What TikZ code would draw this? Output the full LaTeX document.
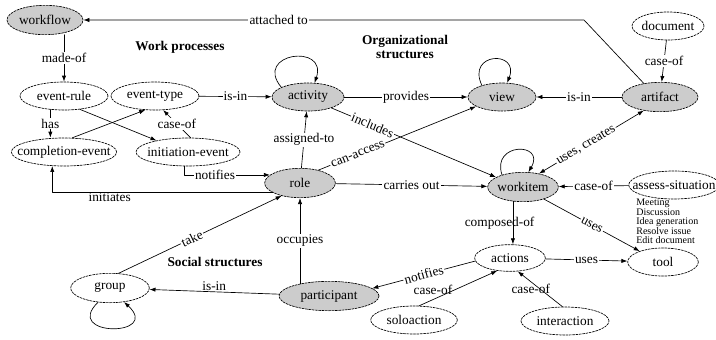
\documentclass[tikz,border=0pt]{standalone}
\usepackage{fontspec}
\setmainfont{Liberation Serif}
\usetikzlibrary{arrows.meta}
\usetikzlibrary{shapes.geometric}
\usetikzlibrary{calc}
\tikzstyle{every node}=[font=\fontsize{10}{12}\selectfont]
\tikzstyle{every path}=[line width=0.5pt,line cap=round,line join=round]
\tikzstyle{concept}=[ellipse,draw,dash pattern=on 1.6pt off 0.9pt,inner xsep=-8pt,inner ysep=1pt,minimum height=21pt]
\tikzstyle{core}=[concept,fill=gray!40]
\tikzstyle{rel}=[fill=white,inner sep=0.8pt]
\tikzstyle{zone}=[font=\fontsize{10}{11}\selectfont\bfseries,align=center]
\tikzstyle{link}=[-{Latex[length=4.5pt,width=3.2pt]}]
\tikzstyle{duallink}=[{Latex[length=4.5pt,width=3.2pt]}-{Latex[length=4.5pt,width=3.2pt]}]

\begin{document}
\begin{tikzpicture}[x=0.75pt,y=-0.75pt]
  \useasboundingbox (0,0) rectangle (716,339);

  % concepts
  \node[core,minimum width=57pt,minimum height=22pt] (workflow) at (45,20) {workflow};
  \node[concept,minimum width=66pt] (eventrule) at (64,96) {event-rule};
  \node[concept,minimum width=66pt] (eventtype) at (155,96) {event-type};
  \node[core,minimum width=54pt] (activity) at (308,97) {activity};
  \node[core,minimum width=51pt] (view) at (502,97) {view};
  \node[core,minimum width=57pt,minimum height=22pt] (artifact) at (660,97) {artifact};
  \node[concept,minimum width=54pt] (document) at (668,26) {document};
  \node[concept,minimum width=79pt] (complevent) at (64,152) {completion-event};
  \node[concept,minimum width=78pt] (initevent) at (188,152) {initiation-event};
  \node[core,minimum width=53pt,minimum height=22pt] (role) at (300,183) {role};
  \node[core,minimum width=53pt,minimum height=22pt] (workitem) at (523,187) {workitem};
  \node[concept,minimum width=68pt] (assess) at (674,185) {assess-situation};
  \node[concept,minimum width=53pt,minimum height=20pt] (actions) at (510,258) {actions};
  \node[concept,minimum width=53pt] (tool) at (663,262) {tool};
  \node[concept,minimum width=59pt,minimum height=22pt] (group) at (110,288) {group};
  \node[core,minimum width=75pt,minimum height=22pt] (participant) at (329,296) {participant};
  \node[concept,minimum width=65pt] (soloaction) at (414,320) {soloaction};
  \node[concept,minimum width=66pt] (interaction) at (565,321) {interaction};

  % regions
  \node[zone] (workproc) at (180,47) {Work processes};
  \node[zone] (orgstruct) at (405,47) {Organizational\\structures};
  \node[zone] (socstruct) at (215,262) {Social structures};

  % situations
  \foreach \txt [count=\i] in {Meeting,Discussion,Idea generation,Resolve issue,Edit document}
    \node[anchor=west,inner sep=0pt,font=\fontsize{7.5}{8}\selectfont] (situation\i) at (636,{194.3+9.2*\i}) {\txt};

  % work processes
  \coordinate (bend) at (584,20);
  \draw[link] (artifact.140) -- (bend) -- node[rel,pos=0.61] {attached to} (workflow.east);
  \draw[link] (workflow.-62 -| eventrule.north) -- node[rel] {made-of} (eventrule.north);
  \draw[link] (eventrule.225) -- node[rel] {has} (eventrule.225 |- complevent.north);
  \draw[link] (eventrule.-40) -- (initevent.160);
  \draw[link] (complevent.60) -- (eventtype.235);
  \draw[link] (initevent.80) -- node[rel] {case-of} (eventtype.-60);
  \draw[link] (eventtype) -- node[rel] {is-in} (activity);
  \draw[link] (initevent.255) |- node[rel,pos=0.68] {notifies} (role.165);
  \draw[link] (role.200) -| node[pos=0.37,below=-1pt,inner sep=1pt] {initiates} (complevent.230);

  % organizational structures
  \draw[link] (activity.160) .. controls (253,53) and (328,43) .. (activity.65);
  \draw[link] (activity) -- node[rel] {provides} (view);
  \draw[link] (view.150) .. controls (466,52) and (520,50) .. (view.70);
  \draw[link] (artifact) -- node[rel] {is-in} (view);
  \draw[link] (document) -- node[rel] {case-of} (artifact);
  \draw[link] (activity.-25) -- node[rel,sloped,pos=0.25] {includes} (workitem.160);
  \draw[link] (role.35) -- node[rel,sloped,pos=0.25] {can-access} (view.200);
  \draw[link] (role) -- node[rel] {assigned-to} (activity);
  \draw[link] (role) -- node[rel] {carries out} (workitem);
  \draw[duallink] (artifact.220) -- node[rel,sloped,pos=0.55] {uses, creates} (workitem.40);
  \draw[link] (workitem.150) .. controls (491,142) and (546,142) .. (workitem.70);
  \draw[link] (assess) -- node[rel,sloped] {case-of} (workitem);
  \draw[link] (workitem.-30) -- node[rel,sloped,pos=0.5] {uses} (tool.155);
  \draw[link] (workitem.235) -- node[xshift=-10pt] {composed-of} (workitem.235 |- actions.north);
  \draw[link] (actions) -- node[rel] {uses} (tool);
  \draw[link] (soloaction.70) -- node[pos=0.45,left=-2pt] {case-of} (actions.225);
  \draw[link] (interaction.100) -- node[xshift=-7pt] {case-of} (actions.-60);

  % social structures
  \draw[link] (actions.185) -- node[rel,sloped] {notifies} (participant.10);
  \draw[link] (role.south |- participant.157) -- node[rel] {occupies} (role.south);
  \draw[link] (participant) -- node[above=-3pt] {is-in} (group);
  \draw[link] (group.60) -- node[rel,sloped,pos=0.45] {take} (role.215);
  \draw[link] (group.230) .. controls (62,337) and (162,337) .. (group.-45);
\end{tikzpicture}
\end{document}
